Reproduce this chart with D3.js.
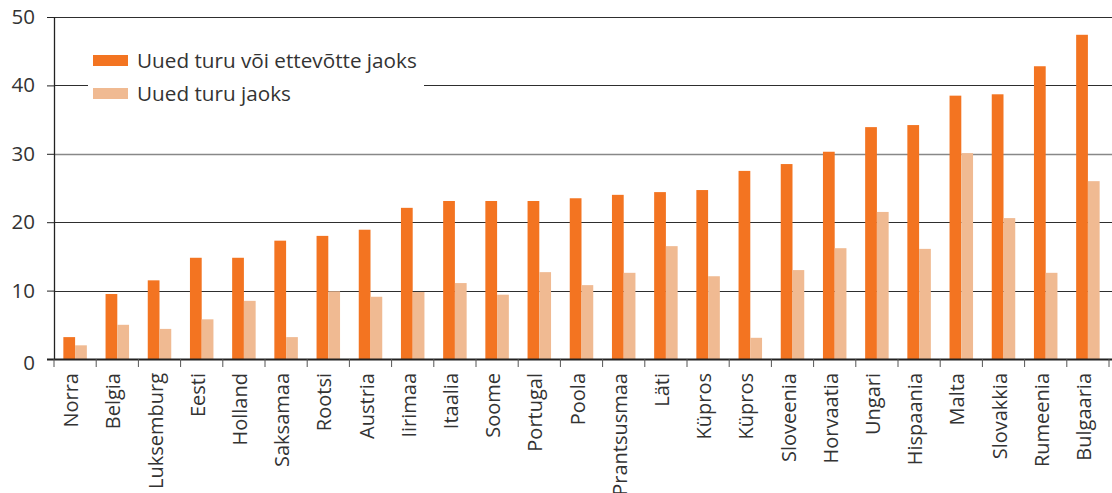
<!DOCTYPE html>
<html><head><meta charset="utf-8">
<script src="https://cdn.jsdelivr.net/npm/d3@7"></script>
<style>body{margin:0;background:#fff;}svg{display:block;font-family:"Open Sans",sans-serif;}</style>
</head><body><svg id="c" width="1112" height="493"></svg>
<script>
const categories = ["Norra","Belgia","Luksemburg","Eesti","Holland","Saksamaa","Rootsi","Austria","Iirimaa","Itaalia","Soome","Portugal","Poola","Prantsusmaa","Läti","Küpros","Küpros","Sloveenia","Horvaatia","Ungari","Hispaania","Malta","Slovakkia","Rumeenia","Bulgaaria"];
const marketOrFirm = [3.2,9.5,11.5,14.8,14.8,17.3,18.0,18.9,22.1,23.1,23.1,23.1,23.5,24.0,24.4,24.7,27.5,28.5,30.3,33.9,34.2,38.5,38.7,42.8,47.4];
const marketOnly = [2.0,5.0,4.4,5.8,8.5,3.2,9.9,9.1,9.8,11.1,9.4,12.7,10.8,12.6,16.5,12.1,3.1,13.0,16.2,21.5,16.1,30.1,20.6,12.6,26.0];
const yTicks = [0,10,20,30,40,50];
const seriesNames = ["Uued turu või ettevõtte jaoks","Uued turu jaoks"];
const colors = ["#F37421","#F0BA92"];

(function(){
const svg = d3.select("#c");
const mL = 54, mR = 1109, mT = 17, mB = 359;
const idx = categories.map((d,i)=>i);
const x = d3.scaleBand().domain(idx).range([mL,mR]).paddingInner(0).paddingOuter(0);
const y = d3.scaleLinear().domain([0,50]).range([mB,mT]);
const inner = d3.scaleBand().domain([0,1]).range([0, 23.5]);
const off = (x.bandwidth()-23.5)/2;

// gridlines
svg.append("g").selectAll("line").data(yTicks.filter(d=>d>0)).join("line")
  .attr("x1",mL).attr("x2",1112)
  .attr("y1",d=>Math.round(y(d))+0.5).attr("y2",d=>Math.round(y(d))+0.5)
  .attr("stroke",d=>d===30?"#888":"#2e2e2e")
  .attr("stroke-width",d=>d===30?1.6:1.1);

// bars
const series = [marketOrFirm, marketOnly];
series.forEach((vals,si)=>{
  svg.append("g").selectAll("rect").data(vals).join("rect")
    .attr("x",(d,i)=>x(i)+off+inner(si))
    .attr("width",inner.bandwidth())
    .attr("y",d=>y(d))
    .attr("height",d=>mB-y(d))
    .attr("fill",colors[si]);
});

// y axis
const ya = svg.append("g").attr("transform",`translate(${mL},0)`)
  .call(d3.axisLeft(y).tickValues(yTicks).tickSize(7).tickPadding(12).tickFormat(d3.format("d")));
ya.select(".domain").attr("stroke","#222").attr("stroke-width",1.3).attr("d",`M0.5,${mT}V${mB}`);
ya.selectAll(".tick line").attr("stroke","#222");
ya.selectAll(".tick text").attr("font-size",20.5).attr("fill","#333").attr("font-family","Open Sans");
ya.selectAll(".tick").filter(d=>d===0).select("text").attr("dy","0.5em");

// x axis
const xa = svg.append("g").attr("transform",`translate(0,${mB})`);
xa.append("line").attr("x1",47).attr("x2",1112).attr("y1",0.5).attr("y2",0.5).attr("stroke","#222").attr("stroke-width",2);
xa.selectAll(".tk").data(idx.concat([categories.length])).join("line").attr("class","tk")
  .attr("x1",d=>d<categories.length?x(d):mR).attr("x2",d=>d<categories.length?x(d):mR)
  .attr("y1",0).attr("y2",8).attr("stroke","#555");
xa.selectAll(".lb").data(categories).join("text").attr("class","lb")
  .attr("transform",(d,i)=>`translate(${x(i)+x.bandwidth()/2-4},14) rotate(-90)`)
  .attr("text-anchor","end").attr("dy","0.35em")
  .attr("font-size",20).attr("fill","#333")
  .text(d=>d);

// legend
const lg = svg.append("g");
lg.append("rect").attr("x",88).attr("y",40).attr("width",336).attr("height",72).attr("fill","#fff");
seriesNames.forEach((n,i)=>{
  lg.append("rect").attr("x",93).attr("y",55+i*33).attr("width",35).attr("height",11).attr("fill",colors[i]);
  lg.append("text").attr("x",137).attr("y",60.5+i*33).attr("dy","0.35em").attr("font-size",20.7).attr("fill","#333").text(n);
});
})();
</script></body></html>
